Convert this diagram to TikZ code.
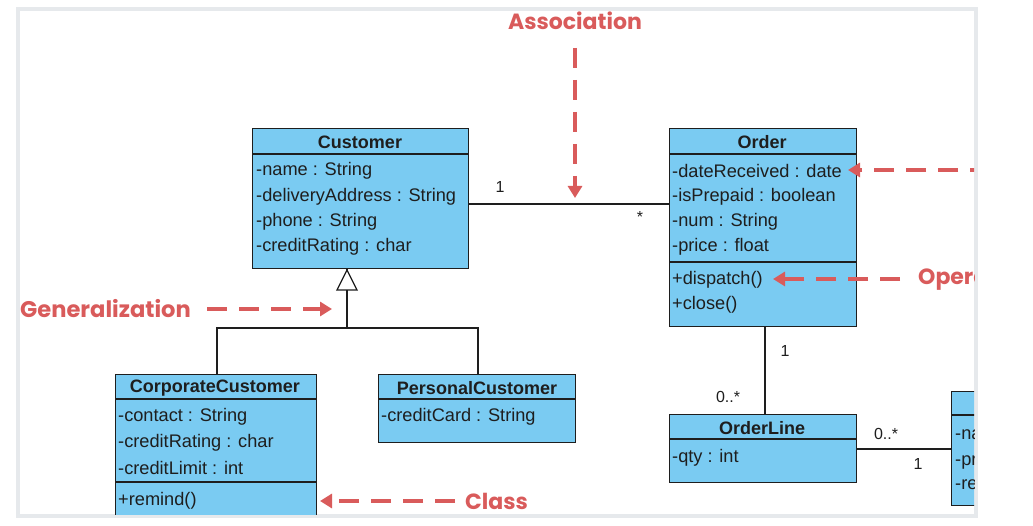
\documentclass[tikz,border=0pt]{standalone}
\usepackage{fontspec}
\setmainfont{Liberation Sans}
\newfontfamily\lab{Poppins}
\usetikzlibrary{arrows.meta,calc}
\definecolor{cls}{HTML}{7ACBF2}
\definecolor{ann}{HTML}{D95B5B}
\definecolor{frm}{HTML}{E6E9EC}
\definecolor{ink}{HTML}{1E1E1E}
\begin{document}
\begin{tikzpicture}[x=1pt,y=-1pt,
  box/.style={draw=ink, line width=1.3pt, fill=cls, anchor=north west, inner sep=0},
  attr/.style={anchor=west, inner sep=0, text=ink, font=\fontsize{18.2}{18.2}\selectfont},
  ctitle/.style={anchor=center, inner sep=0, text=ink, font=\bfseries\fontsize{18}{18}\selectfont},
  note/.style={text=ann, inner sep=0, font=\lab\bfseries\fontsize{22}{22}\selectfont},
  notearrow/.style={draw=ann, line width=3.5pt, dash pattern=on 20pt off 12pt, -{Triangle[length=12pt,width=14pt]}},
  conn/.style={draw=ink, line width=1.3pt},
  mult/.style={inner sep=0, text=ink, font=\fontsize{16}{16}\selectfont}]
\useasboundingbox (0,0) rectangle (1033,526);
\fill[white] (0,0) rectangle (1033,526);
\draw[frm, line width=4pt] (18,9) rectangle (976,516);
\begin{scope}
\clip (20,11) rectangle (974,514);

% Customer
\node[box, minimum width=216pt, minimum height=140pt] (cust) at (252,128) {};
\draw[conn] ($(cust.north west)+(0,26)$) -- ($(cust.north east)+(0,26)$);
\node[ctitle] (custT) at (360,142) {Customer};
\node[attr] (c1) at (256,171) {-name : String};
\node[attr] (c2) at (256,197) {-deliveryAddress : String};
\node[attr] (c3) at (256,222) {-phone : String};
\node[attr] (c4) at (256,247) {-creditRating : char};

% Order
\node[box, minimum width=187pt, minimum height=198pt] (order) at (669,128) {};
\draw[conn] ($(order.north west)+(0,26)$) -- ($(order.north east)+(0,26)$);
\draw[conn] ($(order.north west)+(0,134)$) -- ($(order.north east)+(0,134)$);
\node[ctitle] (orderT) at (762,142) {Order};
\node[attr] (o1) at (672,171) {-dateReceived : date};
\node[attr] (o2) at (672,197) {-isPrepaid : boolean};
\node[attr] (o3) at (672,222) {-num : String};
\node[attr] (o4) at (672,247) {-price : float};
\node[attr] (o5) at (672,280) {+dispatch()};
\node[attr] (o6) at (672,305) {+close()};

% CorporateCustomer
\node[box, minimum width=201pt, minimum height=170pt] (corp) at (115,374) {};
\draw[conn] ($(corp.north west)+(0,25)$) -- ($(corp.north east)+(0,25)$);
\draw[conn] ($(corp.north west)+(0,108)$) -- ($(corp.north east)+(0,108)$);
\node[ctitle] (corpT) at (215,388) {CorporateCustomer};
\node[attr] (k1) at (118,417) {-contact : String};
\node[attr] (k2) at (118,443) {-creditRating : char};
\node[attr] (k3) at (118,468) {-creditLimit : int};
\node[attr] (k4) at (118,501) {+remind()};

% PersonalCustomer
\node[box, minimum width=197pt, minimum height=68pt] (pers) at (378,374) {};
\draw[conn] ($(pers.north west)+(0,25)$) -- ($(pers.north east)+(0,25)$);
\node[ctitle] (persT) at (477,388) {PersonalCustomer};
\node[attr] (p1) at (381,417) {-creditCard : String};

% OrderLine
\node[box, minimum width=187pt, minimum height=68pt] (ol) at (669,414) {};
\draw[conn] ($(ol.north west)+(0,25)$) -- ($(ol.north east)+(0,25)$);
\node[ctitle] (olT) at (762,428) {OrderLine};
\node[attr] (l1) at (672,458) {-qty : int};

% Right (clipped) class
\node[box, minimum width=200pt, minimum height=114pt] (prod) at (951,391) {};
\draw[conn] ($(prod.north west)+(0,24)$) -- ($(prod.north east)+(0,24)$);
\node[attr] (r1) at (955,435) {-name};
\node[attr] (r2) at (955,461) {-price};
\node[attr] (r3) at (955,485) {-re};

% Association Customer -- Order
\coordinate (ay) at (0,204);
\draw[conn] (cust.east |- ay) -- (order.west |- ay);
\node[mult] (m1) at (500,187) {1};
\node[mult] (m2) at (640,217) {*};

% Order -- OrderLine
\coordinate (ox) at (765,0);
\draw[conn] (order.south -| ox) -- (ol.north -| ox);
\node[mult] (m3) at (785,351) {1};
\node[mult] (m4) at (728,397) {0..*};

% OrderLine -- right class
\coordinate (ly) at (0,449);
\draw[conn] (ol.east |- ly) -- (prod.west |- ly);
\node[mult] (m5) at (886,434) {0..*};
\node[mult] (m6) at (918,464) {1};

% Generalization
\coordinate (gx) at (347,0);
\coordinate (gj) at (347,328);
\draw[conn] (gj) -- (cust.south -| gx);
\draw[conn] (corp.north -| 217,0) |- (gj) -| (pers.north -| 478,0);
\draw[conn, fill=white] (347,270) -- (357,290) -- (337,290) -- cycle;

% Annotations
\node[note] (nAssoc) at (575,21) {Association};
\coordinate (aTip) at (575,198);
\draw[notearrow] (575,48) -- (aTip);

\node[note, anchor=west, font=\lab\bfseries\fontsize{22.6}{22.6}\selectfont] (nGen) at (20,309) {Generalization};
\coordinate (gTip) at (332,309);
\draw[notearrow] (207,309) -- (gTip);

\node[note, anchor=west] (nClass) at (465,501) {Class};
\coordinate (cS) at (455,501);
\draw[notearrow] (cS) -- (320,501);

\node[note, anchor=west] (nOper) at (918,279) {Operations};
\coordinate (dTip) at (773,279);
\draw[notearrow] (900,279) -- (dTip);

\coordinate (aS) at (990,170);
\coordinate (rTip) at (848,170);
\draw[notearrow] (aS) -- (rTip);
\end{scope}
\end{tikzpicture}
\end{document}
